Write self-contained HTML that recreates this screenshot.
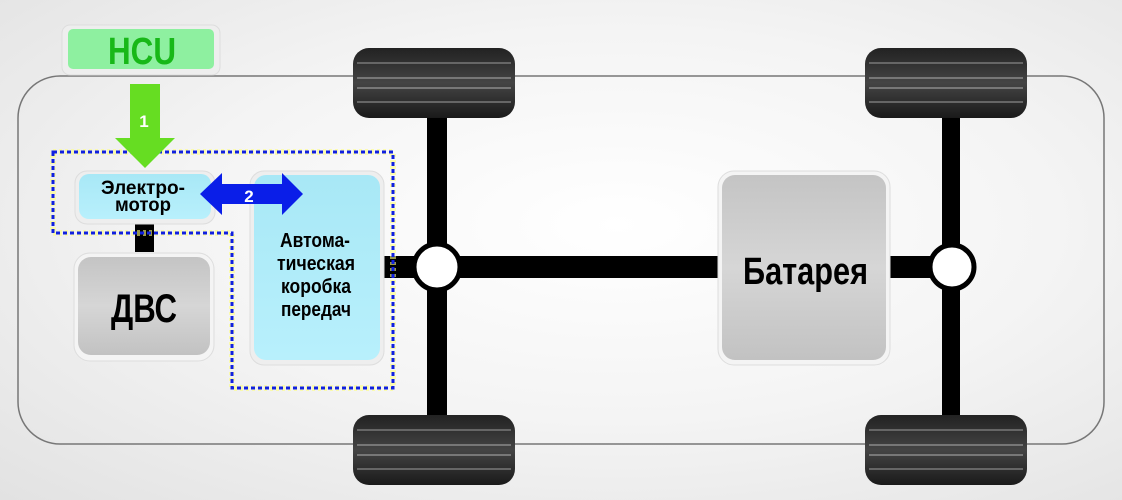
<!DOCTYPE html>
<html><head><meta charset="utf-8"><style>
html,body{margin:0;padding:0;width:1122px;height:500px;overflow:hidden}
body{background:radial-gradient(ellipse at 55% 45%,#ffffff 0%,#f4f4f4 50%,#e2e2e2 100%)}
svg{display:block}
text{font-family:"Liberation Sans Narrow","Liberation Sans","DejaVu Sans",sans-serif;font-weight:bold}
</style></head><body>
<svg width="1122" height="500" viewBox="0 0 1122 500">
<defs>
<linearGradient id="tire" x1="0" y1="0" x2="0" y2="1">
<stop offset="0" stop-color="#222"/><stop offset="0.5" stop-color="#444"/><stop offset="1" stop-color="#1a1a1a"/></linearGradient>
<linearGradient id="gray" x1="0" y1="0" x2="0" y2="1">
<stop offset="0" stop-color="#c4c4c4"/><stop offset="0.5" stop-color="#d6d6d6"/><stop offset="1" stop-color="#c2c2c2"/></linearGradient>
<linearGradient id="cyan" x1="0" y1="0" x2="0" y2="1">
<stop offset="0" stop-color="#a8e8f6"/><stop offset="1" stop-color="#b8f0fc"/></linearGradient>
<g id="tr">
<rect x="0" y="0" width="162" height="70" rx="16" fill="url(#tire)"/>
<rect x="4" y="14" width="154" height="2" fill="#666"/>
<rect x="4" y="29" width="154" height="2" fill="#777"/>
<rect x="4" y="39" width="154" height="2" fill="#777"/>
<rect x="4" y="53" width="154" height="2" fill="#666"/>
</g>
</defs>
<rect x="18" y="76" width="1086" height="368" rx="42" fill="none" stroke="#777" stroke-width="1.5"/>
<use href="#tr" x="353" y="48"/><use href="#tr" x="353" y="415"/>
<use href="#tr" x="865" y="48"/><use href="#tr" x="865" y="415"/>
<rect x="427" y="118" width="20" height="297" fill="#000"/>
<rect x="942" y="118" width="18" height="297" fill="#000"/>
<rect x="383" y="256" width="570" height="22" fill="#000"/>
<circle cx="437" cy="267" r="23" fill="#fff" stroke="#000" stroke-width="5"/>
<circle cx="952" cy="267" r="22" fill="#fff" stroke="#000" stroke-width="5"/>
<rect x="718" y="171" width="172" height="194" rx="16" fill="#f4f4f4" stroke="#ddd"/>
<rect x="722" y="175" width="164" height="185" rx="13" fill="url(#gray)"/>
<text x="743" y="284" font-size="38" textLength="125" lengthAdjust="spacingAndGlyphs" fill="#000">Батарея</text>
<rect x="74" y="253" width="140" height="108" rx="16" fill="#f4f4f4" stroke="#ddd"/>
<rect x="78" y="257" width="132" height="98" rx="13" fill="url(#gray)"/>
<text x="111" y="322" font-size="40" textLength="66" lengthAdjust="spacingAndGlyphs" fill="#000">ДВС</text>
<rect x="135" y="220" width="19" height="32" fill="#000"/>
<rect x="250" y="171" width="134" height="194" rx="14" fill="#eee" stroke="#ddd"/>
<rect x="254" y="175" width="126" height="185" rx="12" fill="url(#cyan)"/>
<g font-size="20" fill="#000">
<text x="280" y="247" textLength="70" lengthAdjust="spacingAndGlyphs">Автома-</text>
<text x="277" y="270" textLength="78" lengthAdjust="spacingAndGlyphs">тическая</text>
<text x="281" y="293" textLength="70" lengthAdjust="spacingAndGlyphs">коробка</text>
<text x="281" y="316" textLength="70" lengthAdjust="spacingAndGlyphs">передач</text></g>
<rect x="75" y="171" width="140" height="53" rx="12" fill="#eee" stroke="#ddd"/>
<rect x="79" y="174" width="132" height="45" rx="10" fill="url(#cyan)"/>
<g font-size="19" fill="#000">
<text x="101" y="194" textLength="84" lengthAdjust="spacingAndGlyphs">Электро-</text>
<text x="115" y="211" textLength="56" lengthAdjust="spacingAndGlyphs">мотор</text></g>
<polygon points="53,152 393,152 393,388 232,388 232,233 53,233" fill="none" stroke="#ffff80" stroke-width="6" stroke-dasharray="3 3" opacity="0.6"/>
<polygon points="53,152 393,152 393,388 232,388 232,233 53,233" fill="none" stroke="#1020e0" stroke-width="3" stroke-dasharray="4 3"/>
<polygon points="200,194 222,173 222,184 282,184 282,173 303,194 282,215 282,204 222,204 222,215" fill="#0a1ee8"/>
<text x="249" y="202" font-size="17" fill="#fff" text-anchor="middle">2</text>
<polygon points="130,84 160,84 160,138 175,138 145,168 115,138 130,138" fill="#66dd22"/>
<text x="144" y="127" font-size="17" fill="#fff" text-anchor="middle">1</text>
<rect x="62" y="25" width="158" height="50" rx="8" fill="#eee" stroke="#ddd"/>
<rect x="68" y="29" width="146" height="40" rx="5" fill="#8ef0a0"/>
<text x="108" y="64" font-size="38" textLength="68" lengthAdjust="spacingAndGlyphs" fill="#18b818">HCU</text>
</svg>
</body></html>
